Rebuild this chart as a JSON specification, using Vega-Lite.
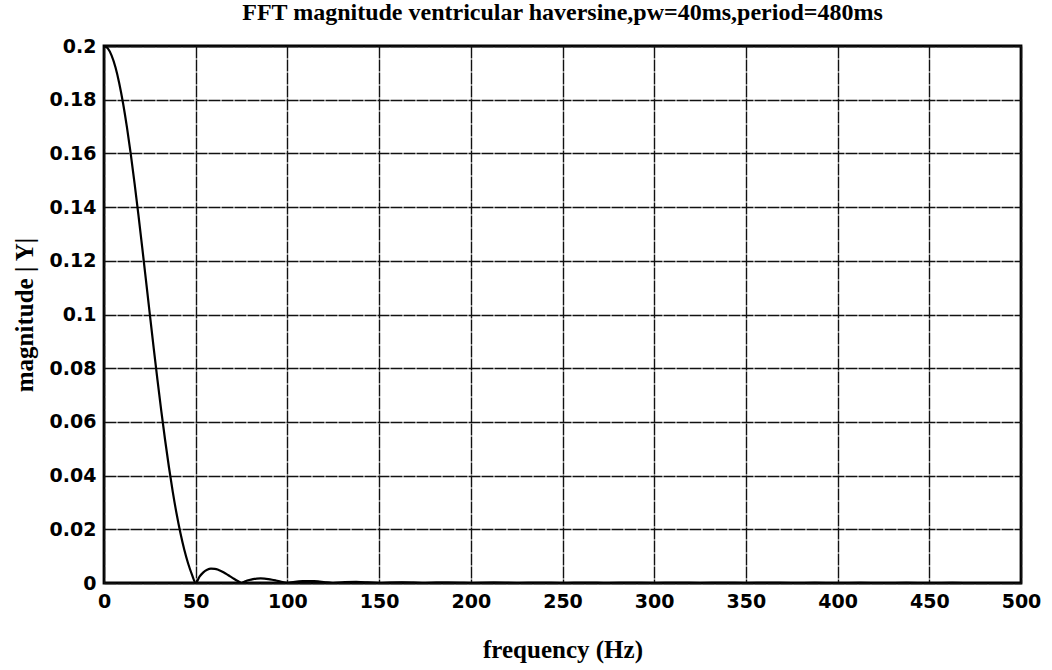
{
  "$schema": "https://vega.github.io/schema/vega-lite/v6.json",
  "width": 917,
  "height": 537,
  "autosize": {"type": "none"},
  "padding": {"left": 104, "top": 46, "right": 31, "bottom": 87},
  "background": "white",
  "title": {
    "text": "FFT magnitude ventricular haversine,pw=40ms,period=480ms",
    "font": "Liberation Serif",
    "fontSize": 24,
    "fontWeight": "bold",
    "color": "black",
    "anchor": "middle",
    "offset": 12
  },
  "config": {
    "view": {"stroke": "black", "strokeWidth": 2.8},
    "axis": {
      "grid": true,
      "gridColor": "#111111",
      "gridWidth": 1.4,
      "gridOpacity": 1,
      "gridDash": [12, 1],
      "domain": false,
      "ticks": false,
      "labelFont": "DejaVu Sans",
      "labelFontSize": 19,
      "labelFontWeight": "bold",
      "labelColor": "black",
      "titleFont": "Liberation Serif",
      "titleFontSize": 25,
      "titleFontWeight": "bold",
      "titleColor": "black"
    }
  },
  "data": {
    "values": [
      {"f": 0, "mag": 0.2},
      {"f": 2.083, "mag": 0.19911},
      {"f": 4.167, "mag": 0.19644},
      {"f": 6.25, "mag": 0.19207},
      {"f": 8.333, "mag": 0.18607},
      {"f": 10.417, "mag": 0.17859},
      {"f": 12.5, "mag": 0.16977},
      {"f": 14.583, "mag": 0.15979},
      {"f": 16.667, "mag": 0.14886},
      {"f": 18.75, "mag": 0.13719},
      {"f": 20.833, "mag": 0.12501},
      {"f": 22.917, "mag": 0.11254},
      {"f": 25, "mag": 0.1},
      {"f": 27.083, "mag": 0.08761},
      {"f": 29.167, "mag": 0.07556},
      {"f": 31.25, "mag": 0.06402},
      {"f": 33.333, "mag": 0.05316},
      {"f": 35.417, "mag": 0.04311},
      {"f": 37.5, "mag": 0.03395},
      {"f": 39.583, "mag": 0.02577},
      {"f": 41.667, "mag": 0.01861},
      {"f": 43.75, "mag": 0.01247},
      {"f": 45.833, "mag": 0.00735},
      {"f": 47.917, "mag": 0.00322},
      {"f": 50, "mag": 0},
      {"f": 52.083, "mag": 0.00237},
      {"f": 54.167, "mag": 0.00398},
      {"f": 56.25, "mag": 0.00492},
      {"f": 58.333, "mag": 0.00532},
      {"f": 60.417, "mag": 0.00526},
      {"f": 62.5, "mag": 0.00485},
      {"f": 64.583, "mag": 0.0042},
      {"f": 66.667, "mag": 0.00338},
      {"f": 68.75, "mag": 0.00249},
      {"f": 70.833, "mag": 0.0016},
      {"f": 72.917, "mag": 0.00075},
      {"f": 75, "mag": 0},
      {"f": 77.083, "mag": 0.00063},
      {"f": 79.167, "mag": 0.00111},
      {"f": 81.25, "mag": 0.00145},
      {"f": 83.333, "mag": 0.00164},
      {"f": 85.417, "mag": 0.00169},
      {"f": 87.5, "mag": 0.00162},
      {"f": 89.583, "mag": 0.00145},
      {"f": 91.667, "mag": 0.00121},
      {"f": 93.75, "mag": 0.00092},
      {"f": 95.833, "mag": 0.00061},
      {"f": 97.917, "mag": 0.00029},
      {"f": 100, "mag": 0},
      {"f": 102.083, "mag": 0.00026},
      {"f": 104.167, "mag": 0.00047},
      {"f": 106.25, "mag": 0.00062},
      {"f": 108.333, "mag": 0.00072},
      {"f": 110.417, "mag": 0.00075},
      {"f": 112.5, "mag": 0.00074},
      {"f": 114.583, "mag": 0.00067},
      {"f": 116.667, "mag": 0.00057},
      {"f": 118.75, "mag": 0.00044},
      {"f": 120.833, "mag": 0.00029},
      {"f": 122.917, "mag": 0.00014},
      {"f": 125, "mag": 0},
      {"f": 131.25, "mag": 0.00032},
      {"f": 137.5, "mag": 0.0004},
      {"f": 143.75, "mag": 0.00024},
      {"f": 150, "mag": 0},
      {"f": 156.25, "mag": 0.00019},
      {"f": 162.5, "mag": 0.00024},
      {"f": 168.75, "mag": 0.00015},
      {"f": 175, "mag": 0},
      {"f": 181.25, "mag": 0.00012},
      {"f": 187.5, "mag": 0.00015},
      {"f": 193.75, "mag": 0.0001},
      {"f": 200, "mag": 0},
      {"f": 212.5, "mag": 0.000105},
      {"f": 225, "mag": 0},
      {"f": 237.5, "mag": 0.000075},
      {"f": 250, "mag": 0},
      {"f": 262.5, "mag": 0.000055},
      {"f": 275, "mag": 0},
      {"f": 287.5, "mag": 0.000042},
      {"f": 300, "mag": 0},
      {"f": 312.5, "mag": 0.000033},
      {"f": 325, "mag": 0},
      {"f": 337.5, "mag": 0.000026},
      {"f": 350, "mag": 0},
      {"f": 362.5, "mag": 0.000021},
      {"f": 375, "mag": 0},
      {"f": 387.5, "mag": 0.000017},
      {"f": 400, "mag": 0},
      {"f": 412.5, "mag": 0.000014},
      {"f": 425, "mag": 0},
      {"f": 437.5, "mag": 0.000012},
      {"f": 450, "mag": 0},
      {"f": 462.5, "mag": 0.00001},
      {"f": 475, "mag": 0},
      {"f": 487.5, "mag": 0.0000086},
      {"f": 500, "mag": 0}
    ]
  },
  "mark": {"type": "line", "color": "black", "strokeWidth": 2.2, "interpolate": "monotone", "clip": true},
  "encoding": {
    "x": {
      "field": "f",
      "type": "quantitative",
      "title": "frequency (Hz)",
      "scale": {"domain": [0, 500], "nice": false, "zero": false},
      "axis": {"values": [0, 50, 100, 150, 200, 250, 300, 350, 400, 450, 500], "labelPadding": 9, "titlePadding": 26, "labelFlush": false}
    },
    "y": {
      "field": "mag",
      "type": "quantitative",
      "title": "magnitude | Y|",
      "scale": {"domain": [0, 0.2], "nice": false},
      "axis": {
        "values": [0, 0.02, 0.04, 0.06, 0.08, 0.1, 0.12, 0.14, 0.16, 0.18, 0.2],
        "labelExpr": "datum.value == 0 ? '0' : format(datum.value, '.2~f')",
        "labelPadding": 8,
        "titlePadding": 12,
        "labelFlush": false
      }
    }
  }
}
